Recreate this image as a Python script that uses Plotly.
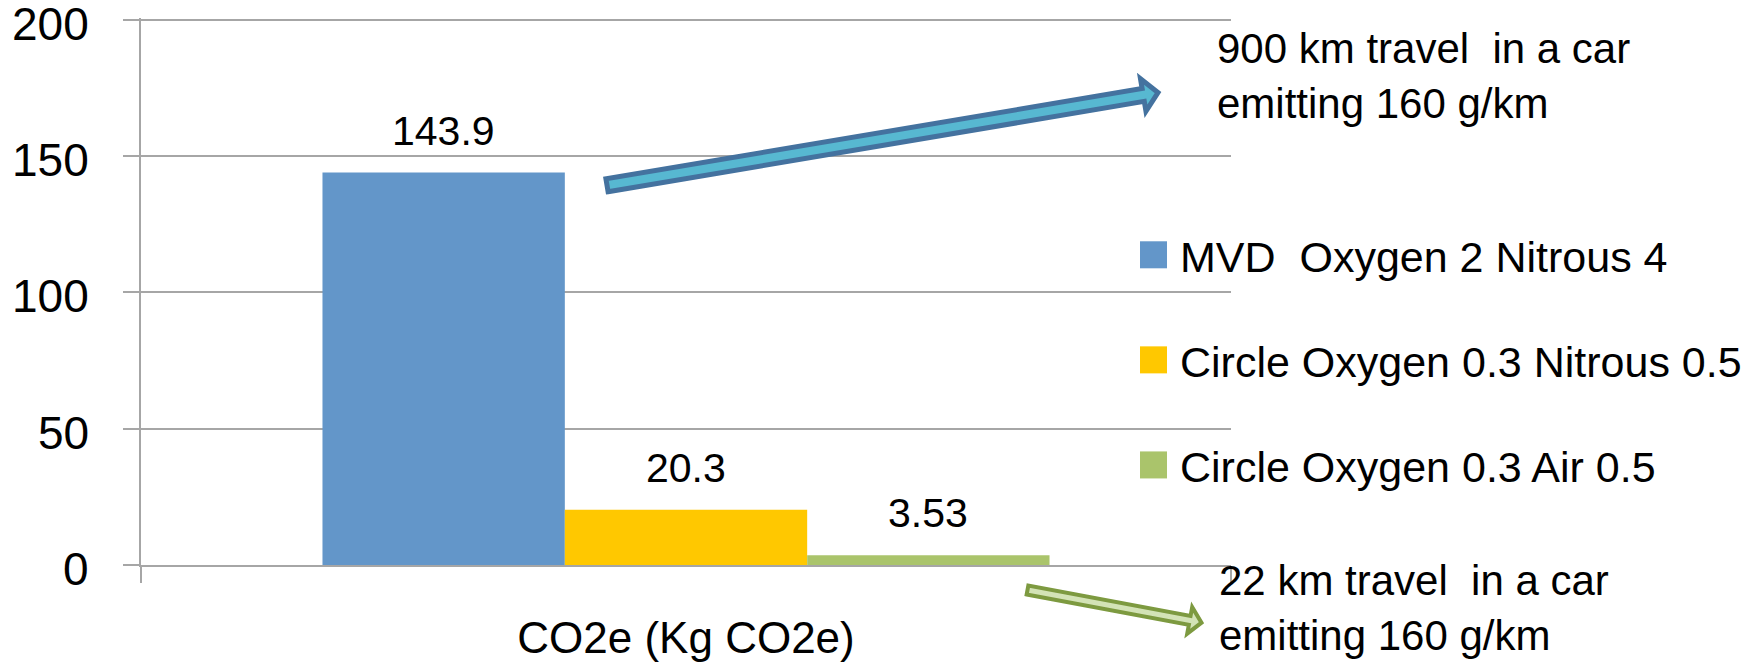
import math
import plotly.graph_objects as go

# ---------------- data ----------------
category = ["CO2e (Kg CO2e)"]
series_names = ["MVD  Oxygen 2 Nitrous 4",
                "Circle Oxygen 0.3 Nitrous 0.5",
                "Circle Oxygen 0.3 Air 0.5"]
values = [143.9, 20.3, 3.53]
value_labels = ["143.9", "20.3", "3.53"]
colors = ["#6396C9", "#FFC800", "#AAC46B"]
y_ticks = [0, 50, 100, 150, 200]
y_tick_labels = ["0", "50", "100", "150", "200"]
note_top = "900 km travel  in a car<br>emitting 160 g/km"
note_bottom = "22 km travel  in a car<br>emitting 160 g/km"

# ---------------- layout geometry (screen pixels) ----------------
OFF = 8                           # default page body margin
W_FIG, H_FIG = 1761 - OFF, 663 - OFF
Y_MAX = 200.6                     # tiny headroom so the 200 gridline is drawn
PX_PER_UNIT = 545 / 200
L, RE, BE = 141, 1231, 565
T = BE - Y_MAX * PX_PER_UNIT
PW, PH = RE - L, BE - T
FONT = "Liberation Sans, Arial, sans-serif"
bargap = 0.333


def to_paper(px, py):
    return (px - L) / PW, (BE - py) / PH


def arrow_path(tail, tip, half_w, half_head, head_len):
    x0, y0 = tail
    x1, y1 = tip
    d = math.hypot(x1 - x0, y1 - y0)
    ux, uy = (x1 - x0) / d, (y1 - y0) / d
    nx, ny = -uy, ux
    bx, by = x1 - ux * head_len, y1 - uy * head_len
    pts = [
        (x0 + nx * half_w, y0 + ny * half_w),
        (bx + nx * half_w, by + ny * half_w),
        (bx + nx * half_head, by + ny * half_head),
        (x1, y1),
        (bx - nx * half_head, by - ny * half_head),
        (bx - nx * half_w, by - ny * half_w),
        (x0 - nx * half_w, y0 - ny * half_w),
    ]
    pp = [to_paper(px, py) for px, py in pts]
    return "M " + " L ".join(f"{a:.5f},{b:.5f}" for a, b in pp) + " Z"


fig = go.Figure()
for name, v, c in zip(series_names, values, colors):
    fig.add_trace(go.Bar(x=category, y=[v], name=name, marker_color=c,
                         marker_line_width=0, showlegend=False))

annotations = []
# y tick labels (sit slightly below their gridlines, as in the original)
lab_x, _ = to_paper(91, 0)
for v, lab in zip(y_ticks, y_tick_labels):
    annotations.append(dict(x=lab_x, y=v, xref="paper", yref="y", text=lab,
                            showarrow=False, xanchor="right", yanchor="middle",
                            yshift=-4,
                            font=dict(family=FONT, size=46, color="black")))

# value labels above bars
n = len(values)
slot = (1 - bargap) / n
for i, (v, lab) in enumerate(zip(values, value_labels)):
    xc = -0.5 + bargap / 2 + (i + 0.5) * slot
    annotations.append(dict(x=xc, y=v, xref="x", yref="y", text=lab,
                            showarrow=False, yanchor="bottom", yshift=17,
                            font=dict(family=FONT, size=41, color="black")))

# manual legend
legend_y = [255, 360, 465]
shapes = []
for name, c, py in zip(series_names, colors, legend_y):
    x0, y0 = to_paper(1140, py - 13.5)
    x1, y1 = to_paper(1167, py + 13.5)
    shapes.append(dict(type="rect", xref="paper", yref="paper",
                       x0=x0, x1=x1, y0=y0, y1=y1,
                       fillcolor=c, line=dict(width=0)))
    tx, ty = to_paper(1178, py + 2)
    annotations.append(dict(x=tx, y=ty, xref="paper", yref="paper", text=name,
                            showarrow=False, xanchor="left", yanchor="middle",
                            font=dict(family=FONT, size=43, color="black")))

# notes
tx, ty = to_paper(1215, 76)
annotations.append(dict(x=tx, y=ty, xref="paper", yref="paper", text=note_top,
                        showarrow=False, xanchor="left", yanchor="middle", align="left",
                        font=dict(family=FONT, size=42, color="black")))
tx, ty = to_paper(1217, 608)
annotations.append(dict(x=tx, y=ty, xref="paper", yref="paper", text=note_bottom,
                        showarrow=False, xanchor="left", yanchor="middle", align="left",
                        font=dict(family=FONT, size=42, color="black")))

# block arrows
shapes.append(dict(type="path", xref="paper", yref="paper",
                   path=arrow_path((607, 185.5), (1158, 92.8), 6.5, 16.5, 15),
                   fillcolor="#57B8D1", line=dict(color="#44729F", width=5)))
shapes.append(dict(type="path", xref="paper", yref="paper",
                   path=arrow_path((1027.5, 590), (1201.5, 622.6), 4.5, 13.5, 12),
                   fillcolor="#D3E3B6", line=dict(color="#7D9A40", width=4)))

fig.update_layout(
    template="none",
    width=W_FIG, height=H_FIG,
    margin=dict(l=L - OFF, r=W_FIG - (RE - OFF), t=T - OFF, b=H_FIG - (BE - OFF),
                pad=0, autoexpand=False),
    paper_bgcolor="white", plot_bgcolor="white",
    barmode="group", bargap=bargap, bargroupgap=0,
    showlegend=False,
    annotations=annotations, shapes=shapes,
    font=dict(family=FONT, color="black"),
)
fig.update_yaxes(range=[0, Y_MAX], tickvals=y_ticks, showgrid=True, automargin=False,
                 gridcolor="#A6A6A6", gridwidth=1.5, zeroline=False,
                 showline=True, linecolor="#A6A6A6", linewidth=1.5,
                 ticks="outside", ticklen=16, tickcolor="#A6A6A6", tickwidth=1.5,
                 showticklabels=False)
fig.update_xaxes(showgrid=False, showline=True, automargin=False,
                 linecolor="#A6A6A6", linewidth=1.5,
                 ticks="outside", tickson="boundaries", ticklen=16,
                 tickcolor="#A6A6A6", tickwidth=1.5, ticklabelstandoff=33,
                 ticklabeloverflow="allow",
                 tickfont=dict(family=FONT, size=44, color="black"))

fig.write_html("out.html")
